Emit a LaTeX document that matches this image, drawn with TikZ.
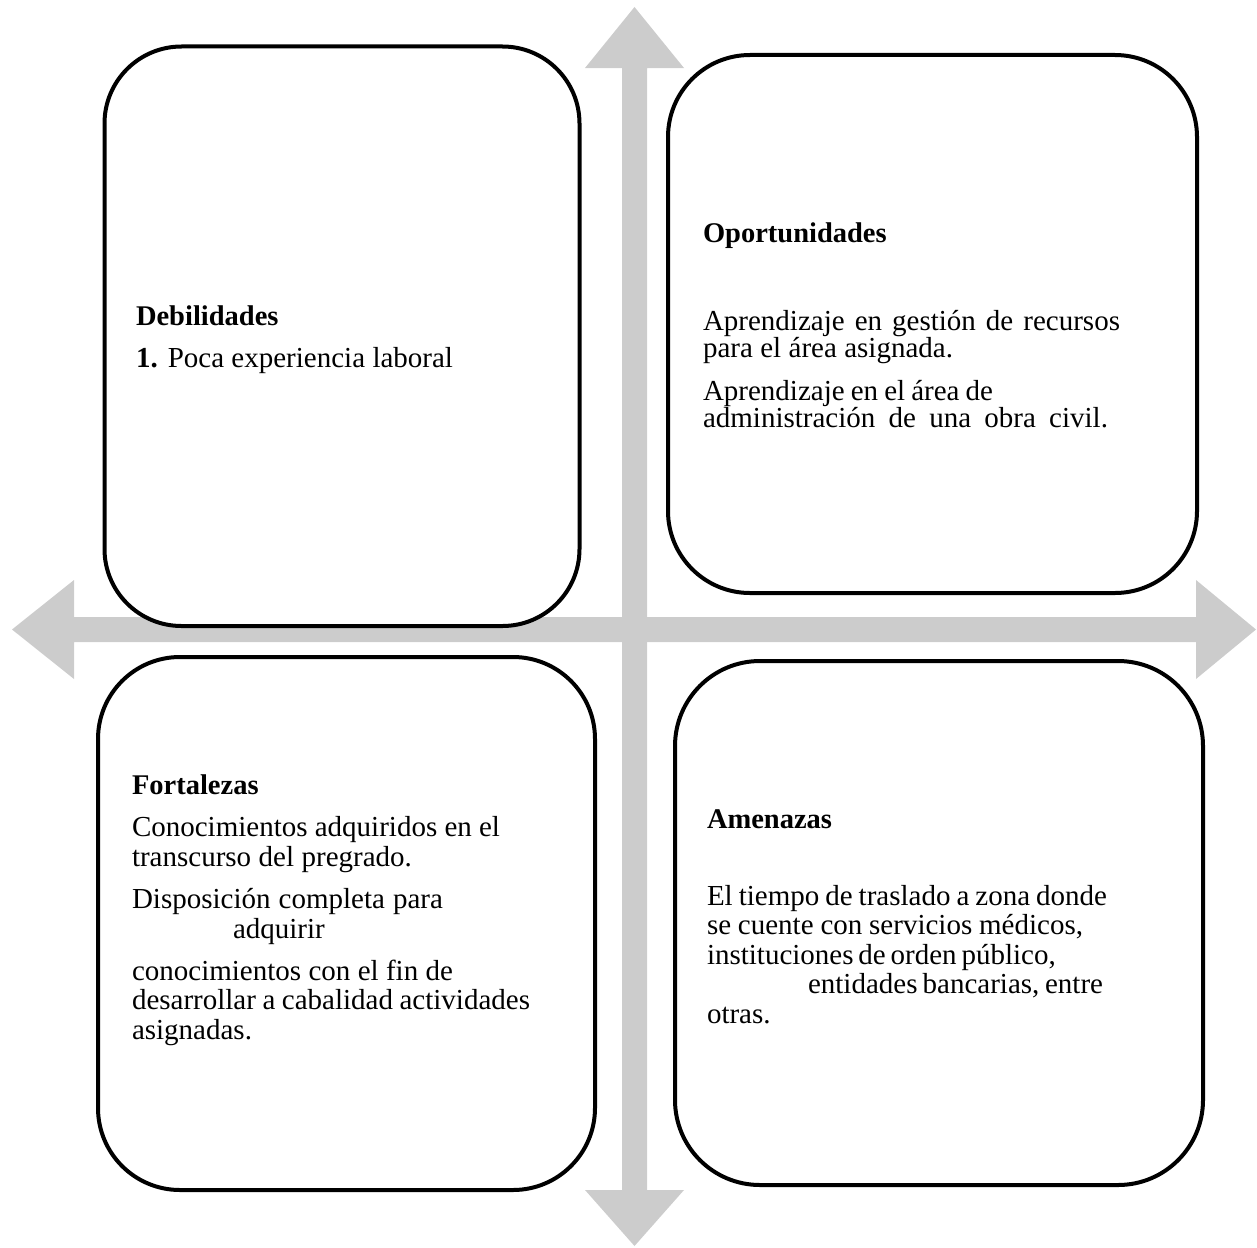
\documentclass[tikz,border=0pt]{standalone}
\usepackage{fontspec}
\setmainfont{Liberation Serif}
\definecolor{arrowgray}{HTML}{CCCCCC}
\newcommand\qline[2]{\hbox{\makebox[#1][s]{#2}}}
\newcommand\qpara[2]{\vtop{\baselineskip=#1\lineskiplimit=-100pt\lineskip=0pt #2}}
\begin{document}
\begin{tikzpicture}[x=1pt,y=-1pt,
  quad/.style={draw=black, line width=4pt, fill=white, rectangle, inner sep=0pt},
  txt/.style={anchor=base west, inner sep=0pt, outer sep=0pt, font=\fontsize{29}{30}\selectfont},
  head/.style={txt, font=\fontsize{28.5}{30}\selectfont\bfseries}]
\useasboundingbox (0,0) rectangle (1257,1247);
% vertical double arrow
\fill[arrowgray] (634.5,7) -- (684,68) -- (647,68) -- (647,1190) -- (684,1190) -- (634.5,1246)
  -- (585,1190) -- (622,1190) -- (622,68) -- (585,68) -- cycle;
% horizontal double arrow
\fill[arrowgray] (12,629.5) -- (74,580) -- (74,617) -- (1196,617) -- (1196,580) -- (1256,629.5)
  -- (1196,679) -- (1196,642) -- (74,642) -- (74,679) -- cycle;
% boxes
\node[quad, rounded corners=77pt, minimum width=475pt, minimum height=579.5pt] (deb) at (342,336.25) {};
\node[quad, rounded corners=82pt, minimum width=529pt, minimum height=538pt] (opo) at (932.5,324) {};
\node[quad, rounded corners=82pt, minimum width=497pt, minimum height=533pt] (fort) at (346.5,923.5) {};
\node[quad, rounded corners=85pt, minimum width=528pt, minimum height=524pt] (amen) at (939,923) {};
% Debilidades
\node[head] (d0) at (136,325) {Debilidades};
\node[txt] (d1) at (136,367) {\makebox[317pt][s]{\textbf{1.} Poca experiencia laboral}};
% Oportunidades
\node[head] (o0) at (703,242) {Oportunidades};
\node[txt] (o1) at (703,330) {\qpara{27pt}{%
  \qline{417pt}{Aprendizaje en gestión de recursos}%
  \qline{250pt}{para el área asignada.}}};
\node[txt] (o3) at (703,400) {\qpara{27pt}{%
  \qline{290pt}{Aprendizaje en el área de}%
  \qline{405pt}{administración de una obra civil.}}};
% Fortalezas
\node[head] (f0) at (132,794) {Fortalezas};
\node[txt] (f1) at (132,836) {\qpara{30pt}{%
  \qline{368pt}{Conocimientos adquiridos en el}%
  \qline{280pt}{transcurso del pregrado.}}};
\node[txt] (f3) at (132,908) {\qpara{30pt}{%
  \qline{311pt}{Disposición completa para}%
  \hbox{\hskip101pt adquirir}}};
\node[txt] (f5) at (132,980) {\qpara{29.5pt}{%
  \qline{321pt}{conocimientos con el fin de}%
  \qline{398pt}{desarrollar a cabalidad actividades}%
  \hbox{asignadas.}}};
% Amenazas
\node[head] (a0) at (707,828) {Amenazas};
\node[txt] (a1) at (707,905) {\qpara{29.5pt}{%
  \qline{400pt}{El tiempo de traslado a zona donde}%
  \qline{376pt}{se cuente con servicios médicos,}%
  \qline{345pt}{instituciones de orden público,}%
  \hbox{\hskip101pt\makebox[295pt][s]{entidades bancarias, entre}}%
  \hbox{otras.}}};
\end{tikzpicture}
\end{document}
